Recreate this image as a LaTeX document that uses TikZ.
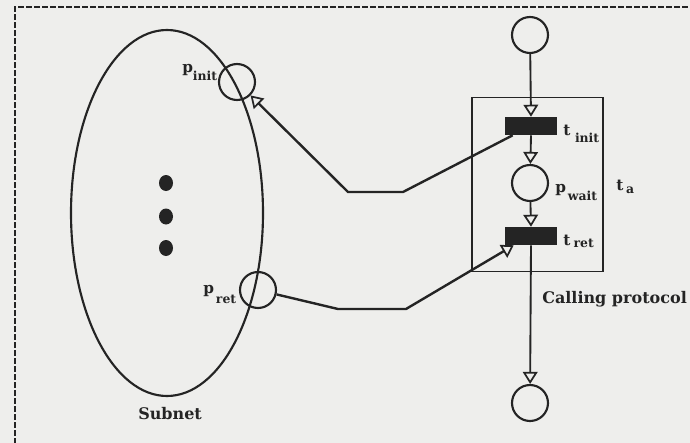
\documentclass[tikz,border=0pt]{standalone}
\usepackage{fontspec}
\newfontfamily\labfont{DejaVu Serif}
\usetikzlibrary{arrows.meta,shapes.geometric,calc}
\definecolor{ink}{RGB}{36,36,36}
\definecolor{paper}{RGB}{238,238,236}
\newcommand{\lsub}[2]{\raisebox{-#1}{\fontsize{9.3}{11}\selectfont #2}}
\begin{document}
\begin{tikzpicture}[x=0.75pt,y=-0.75pt,
  place/.style={circle, draw=ink, line width=1.6pt, minimum size=27pt, inner sep=0pt},
  trans/.style={rectangle, fill=ink, minimum width=39pt, minimum height=13.5pt, inner sep=0pt},
  tip/.style={-{Triangle[open, length=9pt, width=11pt, line width=1.3pt]}},
  arc/.style={draw=ink, line width=1.4pt, tip},
  link/.style={draw=ink, line width=1.8pt, line join=miter, tip},
  lab/.style={inner sep=0pt, anchor=base west, font=\labfont\bfseries\fontsize{11.5}{14}\selectfont, text=ink},
  big/.style={inner sep=0pt, anchor=base west, font=\labfont\bfseries\fontsize{12}{15}\selectfont, text=ink},
  frame/.style={draw=ink, line width=1.5pt, dash pattern=on 4.5pt off 1.5pt},
  token/.style={ellipse, fill=ink, minimum width=10.5pt, minimum height=12pt, inner sep=0pt}
]
\useasboundingbox (0,0) rectangle (690,443);
\clip (0,0) rectangle (690,443);
\fill[paper] (0,0) rectangle (690,443);
% dashed frame
\draw[frame] (15,460) -- (15,7) -- (710,7);

% subnet
\node[ellipse, draw=ink, line width=1.6pt, minimum width=144pt, minimum height=274.5pt, inner sep=0pt] (subnet) at (167,213) {};
\node[token] (d1) at (166,183) {};
\node[token] (d2) at (166,216.5) {};
\node[token] (d3) at (166,248) {};
\node[big] (subnetlab) at (138,419) {Subnet};

% places of subnet
\node[place] (pinit) at (237,82) {};
\node[place] (pret) at (258,290) {};
\node[lab] (pinitlab) at (182,72) {p\lsub{6pt}{init}};
\node[lab] (pretlab) at (203,293) {p\hspace{1.5pt}\lsub{7.5pt}{ret}};

% calling protocol
\node[draw=ink, line width=1.4pt, minimum width=98.25pt, minimum height=130.5pt, inner sep=0pt] (box) at (537.5,184.5) {};
\node[place] (ptop) at (530,35) {};
\node[trans] (tinit) at (531,126) {};
\node[place] (pwait) at (530,183) {};
\node[trans] (tret) at (531,236) {};
\node[place] (pbot) at (530,403) {};

\node[lab] (tinitlab) at (563,135) {t\hspace{3.5pt}\lsub{5.25pt}{init}};
\node[lab] (pwaitlab) at (555,192) {p\hspace{1.5pt}\lsub{6pt}{wait}};
\node[lab] (talab) at (616,190) {t\hspace{2pt}\lsub{2.5pt}{a}};
\node[lab] (tretlab) at (563,245) {t\hspace{2.5pt}\lsub{1.5pt}{ret}};
\node[big] (cplab) at (542,303) {Calling protocol};

% arcs
\draw[arc] (ptop) -- (tinit.north);
\draw[arc] (tinit.south) -- (pwait);
\draw[arc] (pwait) -- (tret.north);
\draw[arc] (tret.south) -- (pbot);

\coordinate (c1) at (403,192);
\coordinate (c2) at (348,192);
\coordinate (c3) at (338,309);
\coordinate (c4) at (406,309);
\draw[link] ($(tinit.south west)+(8,0)$) -- (c1) -- (c2) -- (pinit);
\draw[link] (pret) -- (c3) -- (c4) -- ($(tret.south west)+(9,0)$);
\end{tikzpicture}
\end{document}
